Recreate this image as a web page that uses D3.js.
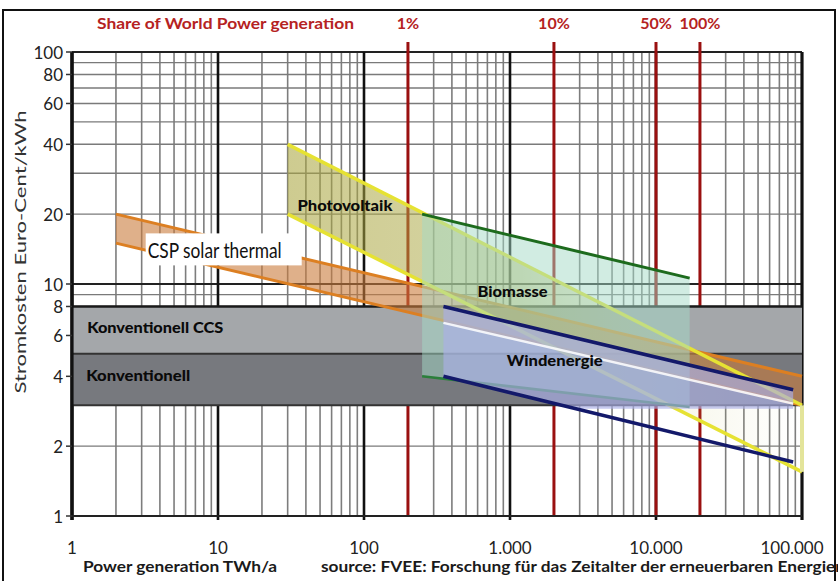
<!DOCTYPE html>
<html><head><meta charset="utf-8">
<script src="https://cdn.jsdelivr.net/npm/d3@7"></script>
<style>body{margin:0;background:#fff}svg{display:block;font-family:Lato,"Open Sans",sans-serif}</style>
</head><body><svg id="c" width="838" height="581"></svg>
<script>
// ---- data ----
const xTickValues = [1, 10, 100, 1000, 10000, 100000];
const xTickLabels = ["1", "10", "100", "1.000", "10.000", "100.000"];
const yTickValues = [1, 2, 4, 6, 8, 10, 20, 40, 60, 80, 100];
const yTickLabels = ["1", "2", "4", "6", "8", "10", "20", "40", "60", "80", "100"];
const shareValues = [200, 2000, 10000, 20000];
const shareLabels = ["1%", "10%", "50%", "100%"];
const convBand = [3, 5];
const ccsBand = [5, 8];
const cspUpper = [[2, 20], [100000, 4]];
const cspLower = [[2, 15], [100000, 3]];
const pvUpper = [[30, 40], [100000, 3]];
const pvLower = [[30, 20], [100000, 1.55]];
const bioUpper = [[250, 20], [17000, 10.6]];
const bioLower = [[250, 4], [17000, 2.95]];
const windUpper = [[350, 8], [87000, 3.5]];
const windLower = [[350, 4], [87000, 1.71]];
const windMid = [[350, 6.8], [87000, 3.05]];
const areaLabels = [
  {text: "Photovoltaik", x: 35, y: 22, w: 95},
  {text: "Biomasse", x: 600, y: 9.3, w: 70},
  {text: "Windenergie", x: 950, y: 4.7, w: 96},
  {text: "Konventionell CCS", x: 1.27, y: 6.55, w: 136},
  {text: "Konventionell", x: 1.25, y: 4.05, w: 104}
];
const cspLabel = {text: "CSP solar thermal", x: 3.3, y: 14.1};

// ---- scales ----
const svg = d3.select("#c");
const x = d3.scaleLog().domain([1, 100000]).range([72, 802]);
const y = d3.scaleLog().domain([1, 100]).range([516, 52]);
const [X0, X1] = x.range();
const yBot = y(1), yTop = y(100);
const isMajor = v => Math.abs(Math.log10(v) - Math.round(Math.log10(v))) < 1e-9;
const line = d3.line().x(d => x(d[0])).y(d => y(d[1]));
const areaPath = (up, lo) => line(up.concat(lo.slice().reverse())) + "Z";

const defs = svg.append("defs");
const grad = defs.append("linearGradient").attr("id", "pvGrad")
  .attr("gradientUnits", "userSpaceOnUse")
  .attr("x1", x(pvUpper[0][0])).attr("x2", x(pvUpper[1][0])).attr("y1", 0).attr("y2", 0);
grad.append("stop").attr("offset", 0).attr("stop-color", "#aaa640").attr("stop-opacity", 0.58);
grad.append("stop").attr("offset", 0.45).attr("stop-color", "#aaa640").attr("stop-opacity", 0.48);
grad.append("stop").attr("offset", 0.78).attr("stop-color", "#c8c470").attr("stop-opacity", 0.12);
grad.append("stop").attr("offset", 1).attr("stop-color", "#c8c470").attr("stop-opacity", 0.0);
defs.append("clipPath").attr("id", "windClip").append("rect")
  .attr("x", X0).attr("y", yTop).attr("width", X1 - X0).attr("height", y(2.9) - yTop);

// frame
svg.append("rect").attr("x", 3).attr("y", 10).attr("width", 832).attr("height", 620)
  .attr("fill", "none").attr("stroke", "#111").attr("stroke-width", 2);

// ---- grid ----
const grid = svg.append("g");
const xt = x.ticks();
grid.selectAll(".vx").data(xt.filter(v => !isMajor(v))).join("line")
  .attr("x1", d => x(d)).attr("x2", d => x(d)).attr("y1", yTop).attr("y2", yBot)
  .attr("stroke", "#7d7d7d").attr("stroke-width", 1.6);
const yt = y.ticks();
grid.selectAll(".hy").data(yt.filter(v => !isMajor(v))).join("line")
  .attr("x1", X0).attr("x2", X1).attr("y1", d => y(d)).attr("y2", d => y(d))
  .attr("stroke", "#7a7a7a").attr("stroke-width", 1.4);
grid.selectAll(".hyM").data(yt.filter(isMajor)).join("line")
  .attr("x1", X0).attr("x2", X1).attr("y1", d => y(d)).attr("y2", d => y(d))
  .attr("stroke", "#222").attr("stroke-width", 2);
grid.selectAll(".vxM").data(xTickValues).join("line")
  .attr("x1", d => x(d)).attr("x2", d => x(d)).attr("y1", yTop).attr("y2", yBot + 4)
  .attr("stroke", "#111").attr("stroke-width", (d, i) => (i === 0 || i === xTickValues.length - 1) ? 3.2 : 2.6);

// red share lines
svg.append("g").selectAll("line").data(shareValues).join("line")
  .attr("x1", d => x(d)).attr("x2", d => x(d)).attr("y1", yTop - 10).attr("y2", yBot)
  .attr("stroke", "#9a1010").attr("stroke-width", 3);

// ---- conventional bands ----
const bands = svg.append("g");
bands.append("rect").attr("x", X0).attr("width", X1 - X0)
  .attr("y", y(ccsBand[1])).attr("height", y(ccsBand[0]) - y(ccsBand[1])).attr("fill", "#a4a7aa");
bands.append("rect").attr("x", X0).attr("width", X1 - X0)
  .attr("y", y(convBand[1])).attr("height", y(convBand[0]) - y(convBand[1])).attr("fill", "#77797e");
bands.selectAll("line").data([ccsBand[1], ccsBand[0], convBand[0]]).join("line")
  .attr("x1", X0).attr("x2", X1).attr("y1", d => y(d)).attr("y2", d => y(d))
  .attr("stroke", (d, i) => i === 0 ? "#1a1a1a" : "#333").attr("stroke-width", (d, i) => i === 0 ? 2.6 : 2);

// ---- CSP ----
svg.append("path").attr("d", areaPath(cspUpper, cspLower)).attr("fill", "#c97b3c").attr("fill-opacity", 0.6);
svg.selectAll(".csp").data([cspUpper, cspLower]).join("path").attr("d", line)
  .attr("fill", "none").attr("stroke", "#dc7f22").attr("stroke-width", 3);
const cspG = svg.append("g");
const cspRect = cspG.append("rect").attr("fill", "#fff");
const cspT = cspG.append("text").attr("x", x(cspLabel.x)).attr("y", y(cspLabel.y))
  .attr("dominant-baseline", "central").attr("font-size", 21).attr("fill", "#111")
  .attr("textLength", 134).attr("lengthAdjust", "spacingAndGlyphs").text(cspLabel.text);
const bb = cspT.node().getBBox();
cspRect.attr("x", bb.x - 2).attr("y", y(cspLabel.y) - 16).attr("width", bb.width + 22).attr("height", 32);

// ---- PV ----
svg.append("path").attr("d", areaPath(pvUpper, pvLower)).attr("fill", "url(#pvGrad)");
svg.selectAll(".pv").data([pvUpper, pvLower]).join("path").attr("d", line)
  .attr("fill", "none").attr("stroke", "#e6e233").attr("stroke-width", 3.5);
svg.append("path").attr("d", line([pvUpper[1], pvLower[1]]))
  .attr("stroke", "#e3e49a").attr("stroke-width", 4).attr("fill", "none");

// ---- Biomasse ----
svg.append("path").attr("d", areaPath(bioUpper, bioLower)).attr("fill", "#a3dac6").attr("fill-opacity", 0.5);
svg.append("path").attr("d", line(bioUpper)).attr("fill", "none").attr("stroke", "#1d6b1d").attr("stroke-width", 3);
svg.append("path").attr("d", line(bioLower)).attr("fill", "none").attr("stroke", "#2a7f3a").attr("stroke-width", 2.6);

// ---- Wind ----
svg.append("path").attr("d", areaPath(windUpper, windLower)).attr("clip-path", "url(#windClip)")
  .attr("fill", "#aaaee6").attr("fill-opacity", 0.66);
svg.append("path").attr("d", line(windMid)).attr("fill", "none").attr("stroke", "#fff")
  .attr("stroke-width", 2.4).attr("stroke-opacity", 0.85);
svg.selectAll(".wind").data([windUpper, windLower]).join("path").attr("d", line)
  .attr("fill", "none").attr("stroke", "#13196a").attr("stroke-width", 3.5);

// ---- area labels ----
svg.append("g").selectAll("text").data(areaLabels).join("text")
  .attr("x", d => x(d.x)).attr("y", d => y(d.y)).attr("dominant-baseline", "central")
  .attr("font-size", 15).attr("font-weight", 900).attr("fill", "#0a0a0a")
  .attr("textLength", d => d.w).attr("lengthAdjust", "spacingAndGlyphs").text(d => d.text);

// ---- axes ----
const ax = svg.append("g");
ax.append("line").attr("x1", X0).attr("x2", X0).attr("y1", yTop).attr("y2", yBot + 4)
  .attr("stroke", "#111").attr("stroke-width", 3.2);
ax.append("line").attr("x1", X0).attr("x2", X1).attr("y1", yBot).attr("y2", yBot)
  .attr("stroke", "#222").attr("stroke-width", 2);
ax.selectAll(".yt").data(yTickValues).join("line")
  .attr("x1", X0 - 6).attr("x2", X0).attr("y1", d => y(d)).attr("y2", d => y(d))
  .attr("stroke", "#333").attr("stroke-width", 1.5);
ax.selectAll(".yl").data(yTickValues).join("text")
  .attr("x", X0 - 9).attr("y", d => y(d)).attr("text-anchor", "end").attr("dominant-baseline", "central")
  .attr("font-size", 17).attr("fill", "#222").text((d, i) => yTickLabels[i]);
ax.selectAll(".xl").data(xTickValues).join("text")
  .attr("x", d => x(d)).attr("dx", (d, i) => i === xTickValues.length - 1 ? -10 : 0)
  .attr("y", yBot + 31).attr("text-anchor", "middle").attr("dominant-baseline", "central")
  .attr("font-size", 17).attr("fill", "#222").text((d, i) => xTickLabels[i]);

// share labels
svg.append("g").selectAll("text").data(shareValues).join("text")
  .attr("x", d => x(d)).attr("y", 22).attr("text-anchor", "middle").attr("dominant-baseline", "central")
  .attr("font-size", 16).attr("font-weight", 700).attr("fill", "#b52222").text((d, i) => shareLabels[i]);
svg.append("text").attr("x", 97).attr("y", 22).attr("dominant-baseline", "central")
  .attr("font-size", 16).attr("font-weight", 700).attr("fill", "#b52222")
  .attr("textLength", 257).attr("lengthAdjust", "spacingAndGlyphs").text("Share of World Power generation");

// axis titles
svg.append("text").attr("transform", "translate(19,252) rotate(-90)").attr("text-anchor", "middle")
  .attr("dominant-baseline", "central").attr("font-size", 16).attr("fill", "#333")
  .attr("textLength", 283).attr("lengthAdjust", "spacingAndGlyphs").text("Stromkosten Euro-Cent/kWh");
svg.append("text").attr("x", 83).attr("y", 566).attr("dominant-baseline", "central")
  .attr("font-size", 15).attr("font-weight", 700).attr("fill", "#1a1a1a")
  .attr("textLength", 194).attr("lengthAdjust", "spacingAndGlyphs").text("Power generation TWh/a");
svg.append("text").attr("x", 321).attr("y", 566).attr("dominant-baseline", "central")
  .attr("font-size", 15).attr("font-weight", 700).attr("fill", "#1a1a1a")
  .attr("textLength", 524).attr("lengthAdjust", "spacingAndGlyphs")
  .text("source: FVEE: Forschung für das Zeitalter der erneuerbaren Energien");
</script></body></html>
